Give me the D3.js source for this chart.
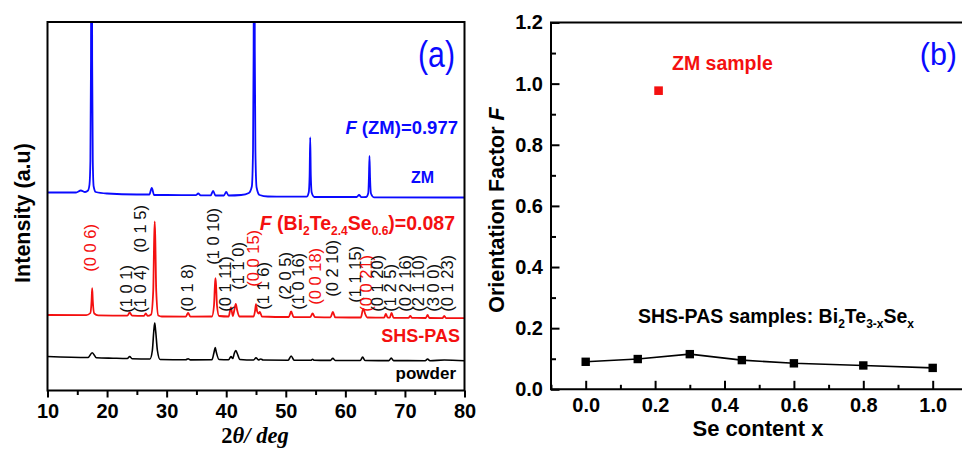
<!DOCTYPE html>
<html>
<head>
<meta charset="utf-8">
<script src="https://cdn.jsdelivr.net/npm/d3@7"></script>
<style>
  html, body { margin: 0; padding: 0; background: #fff; }
  svg { display: block; font-family: "Liberation Sans", Arial, sans-serif; }
</style>
</head>
<body>
<svg id="chart" width="962" height="449"></svg>
<script>
// ---------------- DATA ----------------
// Panel (a): XRD patterns, [2theta (deg), intensity (a.u., stacked with offsets)]
const zmPattern = [
  [10,198],[14.8,198],[15.6,200],[16.3,198.5],[16.8,200],[17.05,206],[17.2,230],[17.3,330],[17.4,700],[17.5,330],[17.6,230],[17.75,204],[18.1,198.5],
  [20,197],[25,196],[27.1,196],[27.5,202.5],[27.9,195.5],[30,195.5],[34.9,195.3],[35.3,197],[35.7,195.2],[37.4,195.2],[37.8,199.5],[38.2,195],
  [39.6,195],[40.0,198.5],[40.4,195],[42.5,195.5],[43.8,197.5],[44.3,204],[44.5,240],[44.6,340],[44.7,700],[44.8,340],[44.9,240],[45.1,203],[45.6,195.5],
  [47,194],[53.5,193.8],[53.85,198],[54.0,215],[54.1,253],[54.2,215],[54.35,198],[54.8,193.5],[61.9,193.5],[62.3,195.5],[62.7,193.3],
  [63.5,193.5],[63.85,197.5],[63.95,212],[64.05,234.5],[64.15,212],[64.3,197],[64.8,193.2],[80,193]
];
const shsPattern = [
  [10,75.5],[16.5,75.3],[17.2,77.5],[17.4,90],[17.5,102.4],[17.6,90],[17.85,77],[18.5,75.2],[23.4,74.8],[23.8,78],[24.2,74.8],
  [26.2,74.6],[26.5,77],[26.8,74.6],[27.4,76],[27.75,100],[27.9,150],[28.0,169],[28.1,150],[28.25,100],[28.6,75],[29.2,74],
  [33.2,73.8],[33.6,77.5],[34.0,73.8],[37.6,74],[37.95,85],[38.1,105],[38.2,112.4],[38.3,105],[38.45,85],[38.8,74.5],
  [40.4,74],[40.8,83],[41.1,74.5],[41.35,80],[41.6,86.7],[41.85,80],[42.2,74],[44.6,74],[44.85,80],[45.0,86.4],[45.2,79],[45.45,77],[45.65,78.5],[46.0,74],
  [50.5,73.5],[50.9,79],[51.3,73.5],[54.1,73.4],[54.5,77],[54.9,73.3],[57.5,73.2],[57.9,78.5],[58.3,73.1],
  [62.6,73],[62.9,80],[63.05,81.7],[63.3,77],[63.7,73],[66.5,72.8],[66.8,76.5],[67.1,72.8],[67.45,72.8],[67.75,77.5],[68.1,72.7],
  [70.6,72.6],[70.9,74.5],[71.2,72.6],[73.5,72.5],[73.8,75.5],[74.1,72.5],[76.3,72.4],[76.6,74.5],[76.9,72.4],[80,72.3]
];
const powderPattern = [
  [10,34],[16.8,33],[17.5,37.8],[18.2,32.8],[21,32.3],[23.4,32],[23.8,34],[24.2,31.8],[27.2,31.5],[27.6,40],[27.85,60],[28.0,67.4],[28.15,60],[28.45,40],[28.9,31],
  [33.2,30.7],[33.6,31.8],[34.0,30.6],[37.6,30.7],[37.95,38],[38.15,43],[38.35,38],[38.8,31],[40.4,30.8],[40.8,34],[41.1,32],[41.35,37],[41.6,40],[41.85,37],[42.3,31],
  [44.6,30.5],[45.0,32.7],[45.4,30.6],[45.8,31.5],[46.2,30.5],[50.4,30.3],[50.9,34.5],[51.4,30.3],[54.2,30.2],[54.5,31.2],[54.8,30.2],
  [57.5,30.1],[57.9,32.2],[58.3,30],[62.5,30],[62.9,33.4],[63.3,30],[67.3,29.9],[67.7,32.5],[68.1,29.9],[73.4,29.8],[73.8,31.5],[74.2,29.8],[76.6,30.5],[80,29.7]
];
// Miller-index labels: text, 2theta, intensity level of the label start, basal (00l) reflection?
const hklText  = ["(0 0 6)","(1 0 1)","(1 0 4)","(0 1 5)","(0 1 8)","(1 0 10)","(0 1 11)","(1 1 0)","(0 0 15)","(1 1 6)","(2 0 5)",
                  "(1 0 16)","(0 0 18)","(0 2 10)","(1 1 15)","(0 0 21)","(0 1 20)","(1 2 5)","(0 2 16)","(2 1 10)","(3 0 0)","(0 1 23)"];
const hklTheta = [17.2,23.2,25.5,25.5,33.4,37.8,39.8,42.0,44.5,46.2,49.9,52.1,54.9,57.8,61.6,63.5,65.3,67.5,70.0,72.2,74.7,77.1];
const hklLevel = [118.7,77.7,77.7,137.7,78.7,125.7,78.7,100.7,103.7,80.7,90.7,80.7,85.7,93.7,87.7,78.7,78.7,78.7,78.7,78.7,78.7,78.7];
const hklBasal = [true,false,false,false,false,false,false,false,true,false,false,false,true,false,false,true,false,false,false,false,false,false];
const thetaTicks = [10,20,30,40,50,60,70,80];
const thetaMinor = [15,25,35,45,55,65,75];

// Panel (b): orientation factor
const seContent = [0.0, 0.15, 0.3, 0.45, 0.6, 0.8, 1.0];
const shsF      = [0.090, 0.099, 0.115, 0.0955, 0.085, 0.078, 0.070];
const zmSeContent = [0.21];
const zmF         = [0.977];
const fTicks  = [0.0,0.2,0.4,0.6,0.8,1.0,1.2];
const fMinor  = [0.1,0.3,0.5,0.7,0.9,1.1];
const seTicks = [0.0,0.2,0.4,0.6,0.8,1.0];
const seMinor = [-0.1,0.1,0.3,0.5,0.7,0.9,1.1];

// ---------------- DRAW ----------------
const BLUE = "#0a0aff", RED = "#f41010", BLACK = "#000";
const svg = d3.select("#chart");
const fmt1 = d3.format(".1f");

// ===== Panel (a) =====
const A = {l: 47.5, r: 464.5, t: 22, b: 390.5};
const xA = d3.scaleLinear().domain([10, 80]).range([A.l, A.r]);
const yA = d3.scaleLinear().domain([0, 368.5]).range([A.b, A.t]);

svg.append("clipPath").attr("id", "clipA")
  .append("rect").attr("x", A.l).attr("y", A.t).attr("width", A.r - A.l).attr("height", A.b - A.t);

const gA = svg.append("g");
const lineA = d3.line().x(d => xA(d[0])).y(d => yA(d[1])).curve(d3.curveMonotoneX);
const plotA = gA.append("g").attr("clip-path", "url(#clipA)");
plotA.append("path").datum(powderPattern).attr("d", lineA).attr("fill", "none").attr("stroke", BLACK).attr("stroke-width", 1.6);
plotA.append("path").datum(shsPattern).attr("d", lineA).attr("fill", "none").attr("stroke", RED).attr("stroke-width", 1.8);
plotA.append("path").datum(zmPattern).attr("d", lineA).attr("fill", "none").attr("stroke", BLUE).attr("stroke-width", 1.8);

// hkl labels
plotA.append("g").selectAll("text").data(hklText).join("text")
  .attr("transform", (d, i) => `translate(${xA(hklTheta[i])},${yA(hklLevel[i])}) rotate(-90)`)
  .attr("dy", "0.36em")
  .attr("font-size", 16.5)
  .attr("fill", (d, i) => hklBasal[i] ? RED : "#111")
  .text(d => d);

// bottom axis (a)
const axA = gA.append("g").attr("transform", `translate(0,${A.b})`)
  .call(d3.axisBottom(xA).tickValues(thetaTicks).tickFormat(d3.format("d")).tickSizeInner(7).tickSizeOuter(0).tickPadding(6));
axA.select(".domain").remove();
axA.selectAll(".tick line").attr("stroke-width", 2);
axA.selectAll("text").attr("font-size", 20).attr("font-weight", "bold").attr("fill", BLACK)
  .attr("font-family", "'Liberation Sans', Arial, sans-serif");
gA.append("g").attr("transform", `translate(0,${A.b})`)
  .call(d3.axisBottom(xA).tickValues(thetaMinor).tickFormat("").tickSizeInner(4.5).tickSizeOuter(0))
  .call(g => g.select(".domain").remove())
  .selectAll(".tick line").attr("stroke-width", 2);

// frame (a)
gA.append("rect").attr("x", A.l).attr("y", A.t).attr("width", A.r - A.l).attr("height", A.b - A.t)
  .attr("fill", "none").attr("stroke", BLACK).attr("stroke-width", 2);

// annotations (a)
gA.append("text").attr("x", 455).attr("y", 67).attr("text-anchor", "end")
  .attr("font-size", 36).attr("fill", BLUE)
  .attr("textLength", 37).attr("lengthAdjust", "spacingAndGlyphs").text("(a)");

const fz = gA.append("text").attr("x", 458).attr("y", 134).attr("text-anchor", "end")
  .attr("font-size", 18.5).attr("font-weight", "bold").attr("fill", BLUE);
fz.append("tspan").attr("font-style", "italic").text("F");
fz.append("tspan").text(" (ZM)=0.977");

gA.append("text").attr("x", 422.5).attr("y", 183).attr("text-anchor", "middle")
  .attr("font-size", 16).attr("font-weight", "bold").attr("fill", BLUE).text("ZM");

const fs = gA.append("text").attr("x", 455).attr("y", 230).attr("text-anchor", "end")
  .attr("font-size", 19.5).attr("font-weight", "bold").attr("fill", RED);
fs.append("tspan").attr("font-style", "italic").text("F");
fs.append("tspan").text(" (Bi");
fs.append("tspan").attr("font-size", 12).attr("dy", 5).text("2");
fs.append("tspan").attr("dy", -5).text("Te");
fs.append("tspan").attr("font-size", 12).attr("dy", 5).text("2.4");
fs.append("tspan").attr("dy", -5).text("Se");
fs.append("tspan").attr("font-size", 12).attr("dy", 5).text("0.6");
fs.append("tspan").attr("dy", -5).text(")=0.087");

gA.append("text").attr("x", 460).attr("y", 342).attr("text-anchor", "end")
  .attr("font-size", 18).attr("font-weight", "bold").attr("fill", RED).text("SHS-PAS");
gA.append("text").attr("x", 456).attr("y", 379).attr("text-anchor", "end")
  .attr("font-size", 17).attr("font-weight", "bold").attr("fill", BLACK).text("powder");

// axis titles (a)
gA.append("text").attr("transform", `translate(30,213) rotate(-90)`).attr("text-anchor", "middle")
  .attr("font-size", 21.5).attr("font-weight", "bold").attr("fill", BLACK).text("Intensity (a.u)");
const xt = gA.append("text").attr("x", 255).attr("y", 442.5).attr("text-anchor", "middle")
  .attr("font-family", "'Liberation Serif', 'Times New Roman', serif")
  .attr("font-size", 22.5).attr("font-weight", "bold").attr("fill", BLACK);
xt.append("tspan").text("2");
xt.append("tspan").attr("font-style", "italic").text("θ/ deg");

// ===== Panel (b) =====
const B = {l: 551, t: 22.5, b: 389.3};
const xB = d3.scaleLinear().domain([-0.1, 1.1]).range([B.l, B.l + 1.2 * 347]);
const yB = d3.scaleLinear().domain([0, 1.2]).range([B.b, B.t]);
const gB = svg.append("g");

svg.append("clipPath").attr("id", "clipB")
  .append("rect").attr("x", B.l).attr("y", B.t).attr("width", 420).attr("height", B.b - B.t);

// left axis
const ayB = gB.append("g").attr("transform", `translate(${B.l},0)`)
  .call(d3.axisLeft(yB).tickValues(fTicks).tickFormat(fmt1).tickSizeInner(-8.5).tickSizeOuter(0).tickPadding(8));
ayB.select(".domain").remove();
ayB.selectAll(".tick line").attr("stroke-width", 2);
ayB.selectAll("text").attr("font-size", 20).attr("font-weight", "bold").attr("fill", BLACK)
  .attr("font-family", "'Liberation Sans', Arial, sans-serif");
gB.append("g").attr("transform", `translate(${B.l},0)`)
  .call(d3.axisLeft(yB).tickValues(fMinor).tickFormat("").tickSizeInner(-5).tickSizeOuter(0))
  .call(g => g.select(".domain").remove())
  .selectAll(".tick line").attr("stroke-width", 2);

// bottom axis
const axB = gB.append("g").attr("transform", `translate(0,${B.b})`)
  .call(d3.axisBottom(xB).tickValues(seTicks).tickFormat(fmt1).tickSizeInner(-8.5).tickSizeOuter(0).tickPadding(9));
axB.select(".domain").remove();
axB.selectAll(".tick line").attr("stroke-width", 2);
axB.selectAll("text").attr("font-size", 20).attr("font-weight", "bold").attr("fill", BLACK)
  .attr("font-family", "'Liberation Sans', Arial, sans-serif");
gB.append("g").attr("transform", `translate(0,${B.b})`)
  .call(d3.axisBottom(xB).tickValues(seMinor).tickFormat("").tickSizeInner(-4.5).tickSizeOuter(0))
  .call(g => g.select(".domain").remove())
  .selectAll(".tick line").attr("stroke-width", 2);

// frame (left, top, bottom; right side is beyond the picture)
gB.append("path")
  .attr("d", `M${xB(1.1) + 5},${B.t} H${B.l} V${B.b} H${xB(1.1) + 5}`)
  .attr("fill", "none").attr("stroke", BLACK).attr("stroke-width", 2);

// data (b)
const plotB = gB.append("g").attr("clip-path", "url(#clipB)");
const shsPts = seContent.map((x, i) => [x, shsF[i]]);
plotB.append("path").datum(shsPts)
  .attr("d", d3.line().x(d => xB(d[0])).y(d => yB(d[1])))
  .attr("fill", "none").attr("stroke", BLACK).attr("stroke-width", 1.6);
plotB.append("g").selectAll("rect").data(shsPts).join("rect")
  .attr("x", d => xB(d[0]) - 4.2).attr("y", d => yB(d[1]) - 4.2)
  .attr("width", 8.4).attr("height", 8.4).attr("fill", BLACK);
plotB.append("g").selectAll("rect").data(zmSeContent.map((x, i) => [x, zmF[i]])).join("rect")
  .attr("x", d => xB(d[0]) - 4.3).attr("y", d => yB(d[1]) - 4.3)
  .attr("width", 8.6).attr("height", 8.6).attr("fill", RED);

// annotations (b)
gB.append("text").attr("x", 957).attr("y", 64.5).attr("text-anchor", "end")
  .attr("font-size", 30.5).attr("fill", BLUE).text("(b)");
gB.append("text").attr("x", 672).attr("y", 70).attr("font-size", 19.5).attr("font-weight", "bold")
  .attr("fill", RED).text("ZM sample");
const st = gB.append("text").attr("x", 638).attr("y", 322.5).attr("font-size", 19.5)
  .attr("font-weight", "bold").attr("fill", BLACK);
st.append("tspan").text("SHS-PAS samples: Bi");
st.append("tspan").attr("font-size", 12).attr("dy", 5).text("2");
st.append("tspan").attr("dy", -5).text("Te");
st.append("tspan").attr("font-size", 12).attr("dy", 5).text("3-x");
st.append("tspan").attr("dy", -5).text("Se");
st.append("tspan").attr("font-size", 12).attr("dy", 5).text("x");

// axis titles (b)
const yt = gB.append("text").attr("transform", `translate(504,210) rotate(-90)`).attr("text-anchor", "middle")
  .attr("font-size", 21.5).attr("font-weight", "bold").attr("fill", BLACK);
yt.append("tspan").text("Orientation Factor  ");
yt.append("tspan").attr("font-style", "italic").text("F");
gB.append("text").attr("x", 758).attr("y", 436).attr("text-anchor", "middle")
  .attr("font-size", 22).attr("font-weight", "bold").attr("fill", BLACK).text("Se content x");
</script>
</body>
</html>
